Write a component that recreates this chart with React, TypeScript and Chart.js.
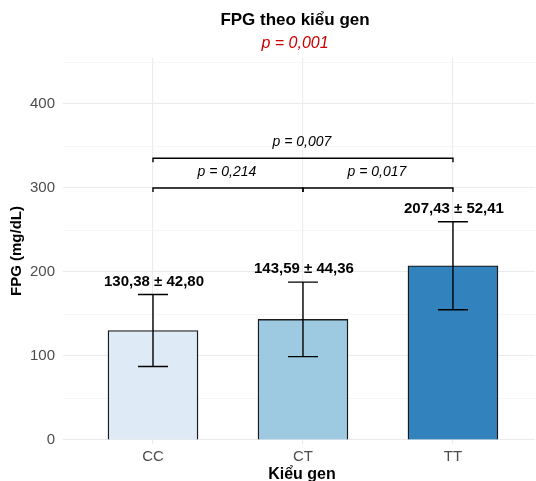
import { useEffect, useRef } from "react";
import { Chart, registerables } from "chart.js";
Chart.register(...registerables);

const categories = ["CC", "CT", "TT"];
const means = [130.38, 143.59, 207.43];
const sds = [42.8, 44.36, 52.41];
const barColors = ["#DEEBF7", "#9ECAE1", "#3182BD"];
const yTicks = [0, 50, 100, 150, 200, 250, 300, 350, 400, 450];
const compFrom = [1, 2, 1];
const compTo = [2, 3, 3];
const compY = [300, 300, 335.4];
const compLabels = ["p = 0,214", "p = 0,017", "p = 0,007"];
const titleText = "FPG theo kiểu gen";
const subtitleText = "p = 0,001";
const yTitle = "FPG (mg/dL)";
const xTitle = "Kiểu gen";

const FONT = "'Liberation Sans', Arial, sans-serif";
const fmt = (n: number) => n.toFixed(2).replace(".", ",");

const overlay = {
  id: "overlay",
  afterDatasetsDraw(chart: any) {
    const { ctx, scales } = chart;
    const xs = scales.x;
    const ys = scales.y;
    ctx.save();
    ctx.strokeStyle = "#000";
    ctx.lineWidth = 1.4;
    means.forEach((m, i) => {
      const x = xs.getPixelForValue(i + 1);
      const yTop = ys.getPixelForValue(m + sds[i]);
      const yBot = ys.getPixelForValue(m - sds[i]);
      ctx.beginPath();
      ctx.moveTo(x, yTop);
      ctx.lineTo(x, yBot);
      ctx.moveTo(x - 15, yTop);
      ctx.lineTo(x + 15, yTop);
      ctx.moveTo(x - 15, yBot);
      ctx.lineTo(x + 15, yBot);
      ctx.stroke();
      ctx.fillStyle = "#000";
      ctx.font = `bold 15px ${FONT}`;
      ctx.textAlign = "center";
      ctx.textBaseline = "alphabetic";
      ctx.fillText(`${fmt(m)} \u00b1 ${fmt(sds[i])}`, x + 1, yTop - 9);
    });
    compLabels.forEach((lab, i) => {
      const x1 = xs.getPixelForValue(compFrom[i]);
      const x2 = xs.getPixelForValue(compTo[i]);
      const y = ys.getPixelForValue(compY[i]);
      const tip = 4;
      ctx.beginPath();
      ctx.moveTo(x1, y + tip);
      ctx.lineTo(x1, y);
      ctx.lineTo(x2, y);
      ctx.lineTo(x2, y + tip);
      ctx.stroke();
      ctx.fillStyle = "#000";
      ctx.font = `italic 14px ${FONT}`;
      ctx.textAlign = "center";
      ctx.textBaseline = "alphabetic";
      ctx.fillText(lab, (x1 + x2) / 2 - 1, y - 12);
    });
    ctx.restore();
  },
  afterDraw(chart: any) {
    const { ctx } = chart;
    ctx.save();
    ctx.textAlign = "center";
    ctx.textBaseline = "alphabetic";
    ctx.fillStyle = "#000";
    ctx.font = `bold 17px ${FONT}`;
    ctx.fillText(titleText, 295, 25);
    ctx.fillStyle = "#CC0000";
    ctx.font = `italic 16px ${FONT}`;
    ctx.fillText(subtitleText, 295, 48);
    ctx.fillStyle = "#000";
    ctx.font = `bold 16px ${FONT}`;
    ctx.fillText(xTitle, 302, 479);
    ctx.restore();
  },
};

export default function App() {
  const ref = useRef<HTMLCanvasElement>(null);
  useEffect(() => {
    if (!ref.current) return;
    const chart = new Chart(ref.current, {
      type: "bar",
      data: {
        datasets: [
          {
            data: means.map((m, i) => ({ x: i + 1, y: m })),
            backgroundColor: barColors,
            borderColor: "#1a1a1a",
            borderWidth: 1.4,
            barThickness: 90,
          },
        ],
      },
      options: {
        animation: false,
        responsive: false,
        devicePixelRatio: 1,
        layout: { padding: { top: 57.8, right: 1, bottom: 0, left: 0 } },
        plugins: { legend: { display: false }, tooltip: { enabled: false } },
        scales: {
          x: {
            type: "linear",
            offset: false,
            min: 0.4,
            max: 3.547,
            afterBuildTicks: (s: any) => {
              s.ticks = categories.map((_, i) => ({ value: i + 1 }));
            },
            afterFit: (s: any) => {
              s.height = 36.8;
            },
            ticks: {
              callback: (v: any) => categories[Number(v) - 1] ?? "",
              color: "#4D4D4D",
              font: { family: FONT, size: 15 },
              padding: 4,
              maxRotation: 0,
              autoSkip: false,
            },
            grid: { color: "#EBEBEB", lineWidth: 1.1, drawTicks: false, offset: false },
            border: { display: false },
            title: { display: false },
          },
          y: {
            type: "linear",
            min: -5,
            max: 455,
            afterBuildTicks: (s: any) => {
              s.ticks = yTicks.map((v) => ({ value: v }));
            },
            afterFit: (s: any) => {
              s.width = 63;
            },
            ticks: {
              callback: (v: any) => (Number(v) % 100 === 0 ? String(v) : ""),
              color: "#4D4D4D",
              font: { family: FONT, size: 15 },
              padding: 8,
              autoSkip: false,
            },
            grid: {
              color: (c: any) => (c.tick && c.tick.value % 100 === 0 ? "#EBEBEB" : "#F2F2F2"),
              lineWidth: (c: any) => (c.tick && c.tick.value % 100 === 0 ? 1.1 : 0.8),
              drawTicks: false,
            },
            border: { display: false },
            title: {
              display: true,
              text: yTitle,
              color: "#000",
              font: { family: FONT, size: 15, weight: "bold" },
              padding: { top: 8, bottom: 0 },
            },
          },
        },
      } as any,
      plugins: [overlay],
    });
    return () => chart.destroy();
  }, []);
  return (
    <div style={{ position: "fixed", left: 0, top: 0, width: 536, height: 481, background: "#fff" }}>
      <canvas ref={ref} width={536} height={481} style={{ width: 536, height: 481 }} />
    </div>
  );
}
